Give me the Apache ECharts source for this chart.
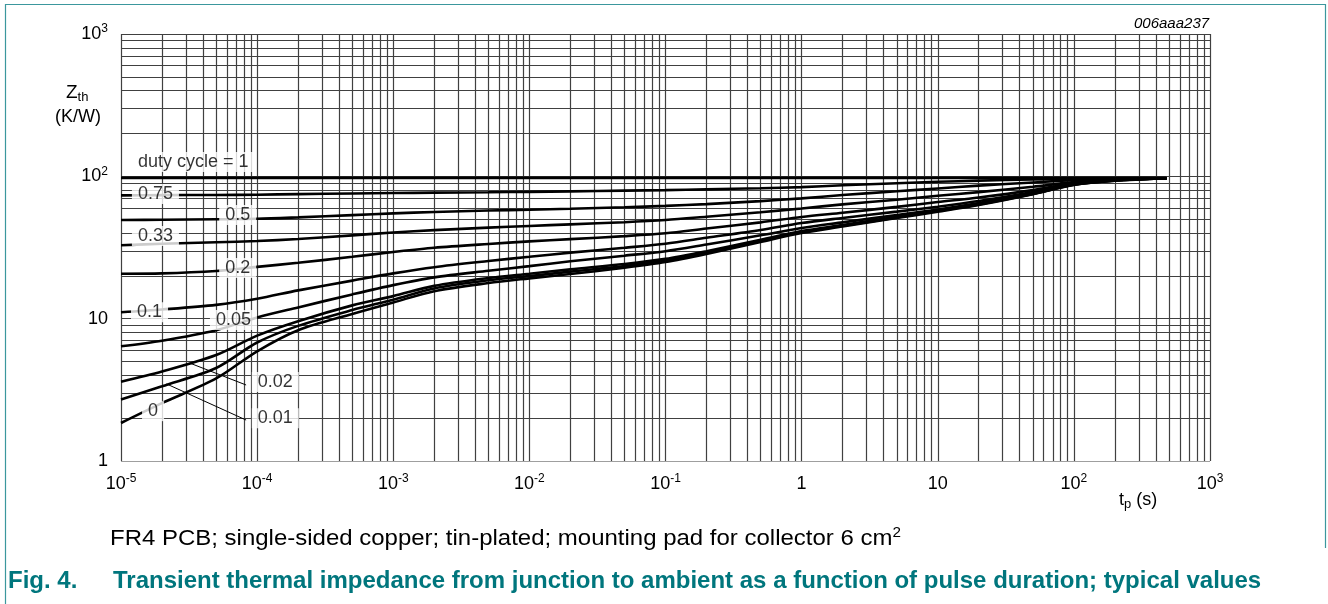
<!DOCTYPE html>
<html>
<head>
<meta charset="utf-8">
<script src="https://cdn.jsdelivr.net/npm/echarts@6.0.0/dist/echarts.min.js"></script>
<style>
html,body{margin:0;padding:0;background:#ffffff;}
#chart{width:1328px;height:604px;}
</style>
</head>
<body>
<div id="chart"></div>
<script>
// ---------------- data ----------------
const tp = [1e-5, 2e-5, 5e-5, 1e-4, 2e-4, 5e-4, 1e-3, 2e-3, 5e-3, 1e-2, 2e-2, 5e-2, 0.1, 0.2, 0.5, 1, 2, 5, 10, 20, 50, 100, 200, 480];

const z_d1   = [97.5, 97.5, 97.5, 97.5, 97.5, 97.5, 97.5, 97.5, 97.5, 97.5, 97.5, 97.5, 97.5, 97.5, 97.5, 97.5, 97.5, 97.5, 97.5, 97.5, 97.5, 97.5, 97.5, 97.5];
const z_d075 = [73.5, 73.8, 74.0, 74.3, 75.0, 75.8, 76.3, 76.8, 77.3, 77.8, 78.4, 79.3, 80.0, 81.0, 82.5, 84.0, 86.5, 89.5, 91.5, 93.3, 95.0, 96.2, 96.8, 97.0];
const z_d05  = [49.3, 49.5, 49.9, 50.3, 51.5, 53.4, 54.9, 56.2, 57.5, 58.3, 59.2, 60.6, 62.0, 63.8, 67.0, 70.0, 73.9, 78.5, 82.2, 86.0, 90.5, 94.0, 96.0, 97.0];
const z_d033 = [32.8, 33.6, 34.4, 35.1, 36.3, 38.5, 40.3, 41.9, 43.6, 44.8, 46.0, 47.6, 49.3, 52.0, 56.0, 59.5, 63.5, 68.5, 73.0, 77.5, 84.5, 91.0, 95.0, 97.0];
const z_d02  = [20.7, 20.8, 21.6, 23.1, 24.7, 27.2, 29.4, 31.5, 33.5, 34.9, 36.2, 38.0, 39.8, 43.0, 47.5, 51.8, 55.5, 61.0, 66.0, 71.0, 80.0, 89.5, 94.5, 97.0];
const z_d01  = [11.1, 11.6, 12.5, 13.8, 15.8, 18.5, 20.8, 23.0, 25.4, 27.2, 29.1, 31.5, 33.6, 37.0, 42.0, 47.0, 51.0, 56.5, 61.2, 67.0, 77.5, 88.5, 94.0, 97.0];
const z_d005 = [6.4, 7.0, 8.3, 10.2, 12.0, 14.8, 17.2, 19.5, 21.7, 23.4, 25.3, 27.7, 29.8, 33.2, 38.5, 43.3, 47.5, 53.5, 58.5, 65.0, 76.2, 88.0, 93.8, 97.0];
const z_d002 = [3.6, 4.25, 5.55, 7.6, 9.6, 12.4, 14.4, 17.0, 19.3, 20.7, 22.2, 24.2, 26.3, 29.8, 35.8, 41.2, 45.5, 52.0, 57.5, 64.0, 75.5, 87.5, 93.5, 97.0];
const z_d001 = [2.7, 3.35, 4.5, 6.8, 8.9, 11.5, 13.6, 16.3, 18.6, 19.9, 21.4, 23.4, 25.6, 29.1, 35.1, 40.6, 44.9, 51.4, 57.0, 63.5, 75.3, 87.2, 93.3, 97.0];
const z_d0   = [1.85, 2.55, 3.8, 5.9, 8.3, 10.8, 13.0, 15.6, 17.8, 19.2, 20.6, 22.8, 25.0, 28.5, 34.6, 40.0, 44.4, 50.9, 56.5, 63.0, 75.0, 87.0, 93.0, 97.0];

const dutyCycles = ['1', '0.75', '0.5', '0.33', '0.2', '0.1', '0.05', '0.02', '0.01', '0'];
const curveValues = [z_d1, z_d075, z_d05, z_d033, z_d02, z_d01, z_d005, z_d002, z_d001, z_d0];

// curve label texts and their anchor points (data coordinates)
const labelTexts = ['duty cycle = 1', '0.75', '0.5', '0.33', '0.2', '0.1', '0.05', '0.02', '0.01', '0'];
const labelX     = [3.4e-5, 1.79e-5, 7.2e-5, 1.79e-5, 7.2e-5, 1.62e-5, 6.7e-5, 1.36e-4, 1.36e-4, 1.72e-5];
const labelY     = [126, 75.2, 53.5, 38.1, 22.7, 11.1, 9.8, 3.59, 2.0, 2.24];

// thin leader lines from labels "0.02" and "0.01" to their curves
const leader002 = [[3.19e-5, 4.88], [8.3e-5, 3.42]];
const leader001 = [[2.16e-5, 3.48], [8.3e-5, 1.94]];

const xTickValues = [1e-5, 1e-4, 1e-3, 1e-2, 1e-1, 1, 10, 100, 1000];
const xTickLabels = ['10^-5', '10^-4', '10^-3', '10^-2', '10^-1', '1', '10', '10^2', '10^3'];
const yTickValues = [1, 10, 100, 1000];
const yTickLabels = ['1', '10', '10^2', '10^3'];

// ---------------- chart ----------------
const FONT = '"Liberation Sans", Arial, Helvetica, sans-serif';
const NARROW = '"Liberation Sans Narrow", "Arial Narrow", "Liberation Sans", Arial, sans-serif';
const TEAL = '#00767d';

function richLabel(lbl) {
  const i = lbl.indexOf('^');
  if (i < 0) return '{b|' + lbl + '}';
  return '{b|' + lbl.slice(0, i) + '}{s|' + lbl.slice(i + 1) + '}';
}
function tickFormatter(values, labels) {
  return function (v) {
    for (let i = 0; i < values.length; i++) {
      if (Math.abs(Math.log10(values[i]) - Math.log10(v)) < 1e-6) return richLabel(labels[i]);
    }
    return '';
  };
}
const tickRich = {
  b: { fontFamily: FONT, fontSize: 18, color: '#000', lineHeight: 22 },
  s: { fontFamily: FONT, fontSize: 12, color: '#000', lineHeight: 12, verticalAlign: 'top' }
};

// grid line positions (1..9 per decade)
const xGrid = [], yGrid = [];
for (let e = -5; e < 3; e++) for (let k = 1; k <= 9; k++) xGrid.push(k * Math.pow(10, e));
xGrid.push(1000);
for (let e = 0; e < 3; e++) for (let k = 1; k <= 9; k++) yGrid.push(k * Math.pow(10, e));
yGrid.push(1000);

const gridSegments = xGrid.map(v => ({ coords: [[v, 1], [v, 1000]] }))
  .concat(yGrid.map(v => ({ coords: [[1e-5, v], [1000, v]] })));

const series = [];
series.push({
  type: 'lines', coordinateSystem: 'cartesian2d', silent: true, z: 1,
  polyline: false, symbol: 'none',
  lineStyle: { color: '#404040', width: 1.2, opacity: 1, type: 'solid', curveness: 0 },
  data: gridSegments
});
dutyCycles.forEach((d, i) => {
  series.push({
    name: 'duty ' + d, type: 'line', z: 3, symbol: 'none', smooth: 0.3,
    lineStyle: { color: '#000', width: 2.6 },
    data: tp.map((t, j) => [t, curveValues[i][j]])
  });
});
[leader002, leader001].forEach(l => {
  series.push({ type: 'line', z: 3, symbol: 'none', data: l, lineStyle: { color: '#000', width: 1 } });
});
series.push({
  type: 'scatter', z: 6, symbolSize: 0, silent: true,
  data: labelTexts.map((t, i) => ({ value: [labelX[i], labelY[i]], label: { formatter: t } })),
  label: {
    show: true, position: 'inside', color: '#000', fontFamily: FONT, fontSize: 18,
    backgroundColor: '#ffffff', padding: [1, 6, 0, 6], lineHeight: 19
  }
});

const chart = echarts.init(document.getElementById('chart'), null, { renderer: 'canvas' });
chart.setOption({
  animation: false,
  backgroundColor: '#ffffff',
  grid: { left: 121, top: 34, width: 1089, height: 427, containLabel: false },
  xAxis: {
    type: 'log', logBase: 10, min: 1e-5, max: 1000, interval: 1,
    axisLine: { show: false }, axisTick: { show: false }, splitLine: { show: false },
    axisLabel: { margin: 12, formatter: tickFormatter(xTickValues, xTickLabels), rich: tickRich, showMinLabel: true, showMaxLabel: true, hideOverlap: false }
  },
  yAxis: {
    type: 'log', logBase: 10, min: 1, max: 1000, interval: 1,
    axisLine: { show: false }, axisTick: { show: false }, splitLine: { show: false },
    axisLabel: { margin: 13, formatter: tickFormatter(yTickValues, yTickLabels), rich: tickRich, showMinLabel: true, showMaxLabel: true }
  },
  series: series,
  graphic: [
    { type: 'polyline', silent: true, shape: { points: [[5.5, 604], [5.5, 4.5], [1325.5, 4.5], [1325.5, 548]] },
      style: { stroke: '#3b979d', lineWidth: 1.2, fill: null } },
    { type: 'text', left: 1134, top: 16, silent: true,
      style: { text: '006aaa237', fontFamily: FONT, fontSize: 15, fontStyle: 'italic', fill: '#000' } },
    { type: 'text', left: 66, top: 83, silent: true,
      style: { text: '{b|Z}{s|th}', rich: {
        b: { fontFamily: FONT, fontSize: 19, fill: '#000', lineHeight: 22 },
        s: { fontFamily: FONT, fontSize: 13, fill: '#000', lineHeight: 13, verticalAlign: 'bottom' } } } },
    { type: 'text', left: 55, top: 108, silent: true,
      style: { text: '(K/W)', fontFamily: FONT, fontSize: 18, fill: '#000' } },
    { type: 'text', left: 1119, top: 491, silent: true,
      style: { text: '{b|t}{s|p}{b| (s)}', rich: {
        b: { fontFamily: FONT, fontSize: 18, fill: '#000', lineHeight: 22 },
        s: { fontFamily: FONT, fontSize: 13, fill: '#000', lineHeight: 13, verticalAlign: 'bottom' } } } },
    { type: 'text', x: 110, y: 526, scaleX: 1.09, silent: true,
      style: { text: '{b|FR4 PCB; single-sided copper; tin-plated; mounting pad for collector 6 cm}{s|2}', rich: {
        b: { fontFamily: FONT, fontSize: 22, fill: '#000', lineHeight: 26 },
        s: { fontFamily: FONT, fontSize: 14, fill: '#000', lineHeight: 14, verticalAlign: 'top' } } } },
    { type: 'text', left: 8, top: 569, silent: true,
      style: { text: 'Fig. 4.', fontFamily: NARROW, fontSize: 24, fontWeight: 'bold', fill: TEAL } },
    { type: 'text', left: 113, top: 569, silent: true,
      style: { text: 'Transient thermal impedance from junction to ambient as a function of pulse duration; typical values', fontFamily: NARROW, fontSize: 24, fontWeight: 'bold', fill: TEAL } }
  ]
});
</script>
</body>
</html>
